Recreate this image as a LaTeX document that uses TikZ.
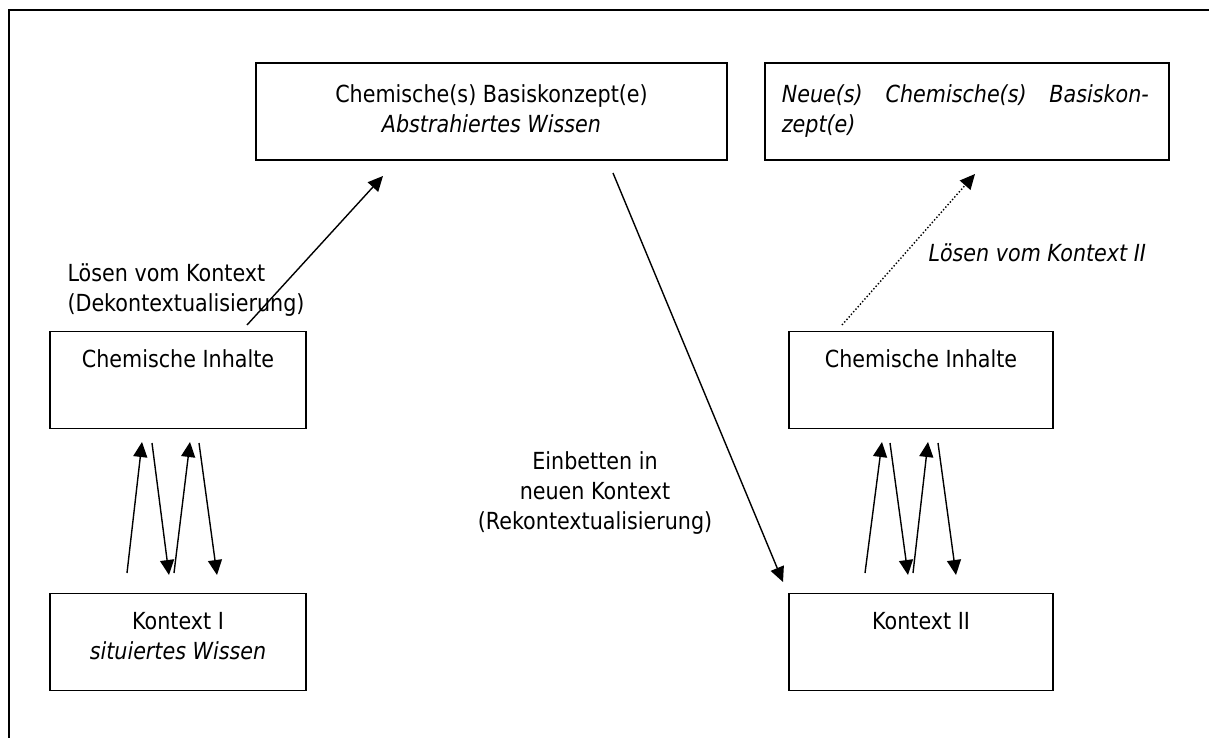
\documentclass[tikz,border=0pt]{standalone}
\usepackage{fontspec}
\setmainfont[FakeStretch=0.88]{DejaVu Sans}
\usetikzlibrary{positioning,arrows.meta}
\tikzset{
	box/.style={draw,line width=1.4pt,minimum width=#1,minimum height=97pt,inner sep=0pt},
	pfeil/.style={line width=1.4pt,-{Triangle[length=15pt,width=14pt]}},
}
\begin{document}
\begin{tikzpicture}[x=1pt,y=-1pt,font=\fontsize{23.5}{30}\selectfont]
	\useasboundingbox (0,0) rectangle (1209,738);
	\draw[line width=1.5pt] (9,738) -- (9,10) -- (1209,10);
%		oben
		\node[box=471] (bk) at (491.5,111.5) {};
		\node[below=19pt of bk.north, align=center] (bktext) {Chemische(s) Basiskonzept(e)\\\textit{Abstrahiertes Wissen}};
		\node[box=404] (nbk) at (967,111.5) {};
		\node[below right=19pt and 14pt of nbk.north west, align=left] (nbktext) {\makebox[367pt][s]{\itshape Neue(s) Chemische(s) Basiskon-}\\\textit{zept(e)}};
%		links
		\node[box=256] (ci1) at (178,380) {};
		\node[below=15pt of ci1.north] (ci1text) {Chemische Inhalte};
		\node[box=256] (k1) at (178,642) {};
		\node[below=16pt of k1.north, align=center] (k1text) {Kontext I\\\textit{situiertes Wissen}};
%		rechts
		\node[box=264] (ci2) at (921,380) {};
		\node[below=15pt of ci2.north] (ci2text) {Chemische Inhalte};
		\node[box=264] (k2) at (921,642) {};
		\node[below=16pt of k2.north] (k2text) {Kontext II};
%		beschriftung
		\node[anchor=north west, align=left] (dek) at (64,260) {L\"osen vom Kontext\\(Dekontextualisierung)};
		\node[anchor=north, align=center] (rek) at (595,448) {Einbetten in\\neuen Kontext\\(Rekontextualisierung)};
		\node[anchor=base west] (dek2) at (925,261) {\textit{L\"osen vom Kontext II}};
%		pfeile
		\coordinate (d0) at (247,325);
		\coordinate (d1) at (383,176);
		\coordinate (r0) at (613,173);
		\coordinate (r1) at (783,582);
		\coordinate (n0) at (842,325);
		\coordinate (n1) at (975,174);
		\draw[pfeil] (d0) -- (d1);
		\draw[pfeil] (r0) -- (r1);
		\draw[pfeil, dotted] (n0) -- (n1);
%		hin und her
		\draw[pfeil] (127,573) -- (142,442);
		\draw[pfeil] (152,443) -- (169,575);
		\draw[pfeil] (174,573) -- (190,442);
		\draw[pfeil] (199,443) -- (217,575);
		\draw[pfeil] (865,573) -- (882,442);
		\draw[pfeil] (890,443) -- (908,575);
		\draw[pfeil] (913,573) -- (928,442);
		\draw[pfeil] (938,443) -- (956,575);
	\end{tikzpicture}
\end{document}
